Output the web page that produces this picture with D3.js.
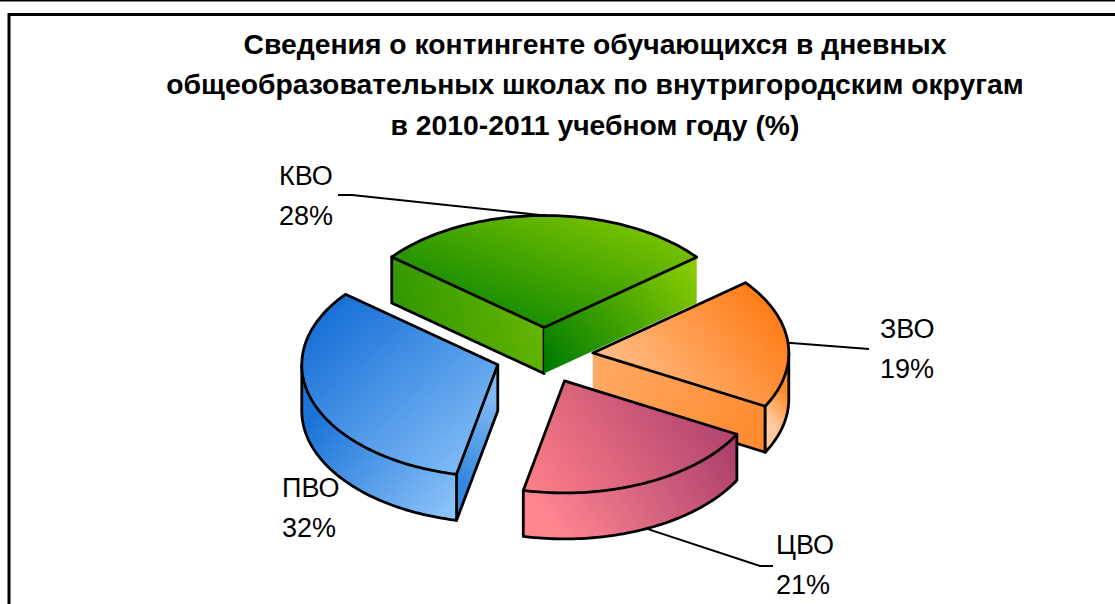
<!DOCTYPE html>
<html><head><meta charset="utf-8">
<script src="https://cdn.jsdelivr.net/npm/d3@7"></script>
<style>html,body{margin:0;padding:0;background:#fff;overflow:hidden}svg{display:block}text{font-family:"Liberation Sans",Arial,sans-serif;fill:#000}</style>
</head><body><svg id="c" width="1115" height="604"></svg>
<script>
const titleLines = ["Сведения о контингенте обучающихся в дневных","общеобразовательных школах по внутригородским округам","в 2010-2011 учебном году (%)"];
const districts = ["КВО","ЗВО","ЦВО","ПВО"];
const shares = [28.4,18.7,20.5,32.49];

const W=1115,H=604, cx=544, cy=355.5, rx=196, ry=112, depth=46, explode=0.25;
const svg=d3.select("#c");
const defs=svg.append("defs");
const toRad=Math.PI/180;
const pie=d3.pie().sort(null).startAngle(-51*toRad).endAngle(309*toRad);
const arcs=pie(shares);
// circle-to-screen projection scales
const px=d3.scaleLinear().domain([-1,1]).range([-rx,rx]);
const py=d3.scaleLinear().domain([-1,1]).range([ry,-ry]);
function project(a,r,ox,oy,dz=0){return [ox+px(r*Math.sin(a)),oy+py(r*Math.cos(a))+dz];}
function sample(a0,a1){const n=Math.max(2,Math.ceil(Math.abs(a1-a0)/0.02));return d3.range(n+1).map(i=>a0+(a1-a0)*i/n);}
const line=d3.line();

function grad(id,c0,c1,x1,y1,x2,y2){
  const g=defs.append("linearGradient").attr("id",id).attr("gradientUnits","userSpaceOnUse")
    .attr("x1",x1).attr("y1",y1).attr("x2",x2).attr("y2",y2);
  g.append("stop").attr("offset",0).attr("stop-color",c0);
  g.append("stop").attr("offset",1).attr("stop-color",c1);
  return `url(#${id})`;
}
const fills={
 "КВО":{top:grad("gt","#008000","#7cc400",505,352,565,192),
        wall1:grad("g1","#329800","#6ab800",400,310,540,270),
        wall2:grad("g2","#007c00","#8fcf00",550,370,695,255)},
 "ЗВО":{top:grad("ot","#ffc08c","#ff7a14",610,380,750,270),
        wall2:grad("o2","#ffa964","#ff8a2c",600,360,760,450),
        arc:grad("o3","#ffcaa0","#ff8a28",768,420,792,400)},
 "ЦВО":{top:grad("pt","#ff8088","#a83c6c",530,500,720,370),
        arc:grad("p3","#ff8690","#a63a6a",560,540,730,420)},
 "ПВО":{top:grad("bt","#156ed6","#8cc4fa",320,310,480,490),
        wall1:grad("b1","#3388e0","#80b8f2",460,480,495,400),
        arc:grad("b3","#1a74d8","#94c8fb",330,400,460,520)}
};

svg.append("rect").attr("width",W).attr("height",H).attr("fill","#fff");
svg.append("line").attr("x1",0).attr("x2",W).attr("y1",0.5).attr("y2",0.5).attr("stroke","#000").attr("stroke-width",2);
svg.append("path").attr("d","M9,"+H+"V14.5H"+(W+5)).attr("fill","none").attr("stroke","#000").attr("stroke-width",3);

const title=svg.append("g");
const tY=[53.5,93.5,135];
titleLines.forEach((t,i)=>title.append("text").attr("x",595).attr("y",tY[i]).attr("text-anchor","middle")
  .attr("font-size",28.3).attr("font-weight","bold").text(t));

const lineStyle=s=>s.attr("stroke","#000").attr("stroke-width",2.8).attr("stroke-linejoin","round").attr("stroke-linecap","round");
const order=["КВО","ПВО","ЗВО","ЦВО"];
const anchors={};
order.forEach(name=>{
  const d=arcs[districts.indexOf(name)], f=fills[name];
  const a0=d.startAngle,a1=d.endAngle,mid=(a0+a1)/2;
  const [ox,oy]=project(mid,explode,cx,cy);
  const g=svg.append("g");
  const apex=[ox,oy];
  // radial faces visible when they turn to the viewer
  if(Math.sin(a0)<0 && f.wall1){
    const e=project(a0,1,ox,oy);
    g.append("path").attr("d",line([apex,e,[e[0],e[1]+depth],[ox,oy+depth]])+"Z").attr("fill",f.wall1);
    if(name==="КВО") lineStyle(g.append("path").attr("d",line([apex,[ox,oy+depth],[e[0],e[1]+depth],e])).attr("fill","none"));
    else lineStyle(g.append("path").attr("d",line([e,[e[0],e[1]+depth],[ox,oy+depth],apex])).attr("fill","none"));
  }
  if(Math.sin(a1)>0 && f.wall2){
    const e=project(a1,1,ox,oy);
    g.append("path").attr("d",line([apex,e,[e[0],e[1]+depth],[ox,oy+depth]])+"Z").attr("fill",f.wall2);
    if(name==="ЗВО") lineStyle(g.append("path").attr("d",line([[ox,oy+depth],[e[0],e[1]+depth],e])).attr("fill","none"));
  }
  // outer rim: the front half of the ellipse
  const f0=Math.max(a0,Math.PI/2), f1=Math.min(a1,3*Math.PI/2);
  if(f1>f0 && f.arc){
    const up=sample(f0,f1).map(a=>project(a,1,ox,oy));
    const dn=sample(f1,f0).map(a=>project(a,1,ox,oy,depth));
    g.append("path").attr("d",line(up.concat(dn))+"Z").attr("fill",f.arc);
    lineStyle(g.append("path").attr("d",line([up[up.length-1]].concat(dn,[up[0]]))).attr("fill","none"));
  }
  // top face
  const pts=[apex].concat(sample(a0,a1).map(a=>project(a,1,ox,oy)));
  lineStyle(g.append("path").attr("d",line(pts)+"Z").attr("fill",f.top));
  // leader anchor on the rim at mid angle
  const front=Math.cos(mid)<0;
  anchors[name]=project(mid,1,ox,oy,(front&&Math.abs(Math.sin(mid))<0.9)?depth:0);
});

const fmt=d3.format(".0f");
const labelPos={"КВО":[279,185,[[338,195],[352,195]]],"ЗВО":[880,338,[[869,349]]],"ЦВО":[776,554,[[773,566],[760,566]]],"ПВО":[282,497,null]};
districts.forEach((n,i)=>{
  const p=labelPos[n];
  const t=svg.append("text").attr("font-size",27);
  t.append("tspan").attr("x",p[0]).attr("y",p[1]).text(n);
  t.append("tspan").attr("x",p[0]).attr("y",p[1]+40).text(fmt(shares[i])+"%");
  if(p[2]) svg.append("path").attr("d",line(p[2].concat([anchors[n]]))).attr("fill","none").attr("stroke","#000").attr("stroke-width",2);
});
</script></body></html>
